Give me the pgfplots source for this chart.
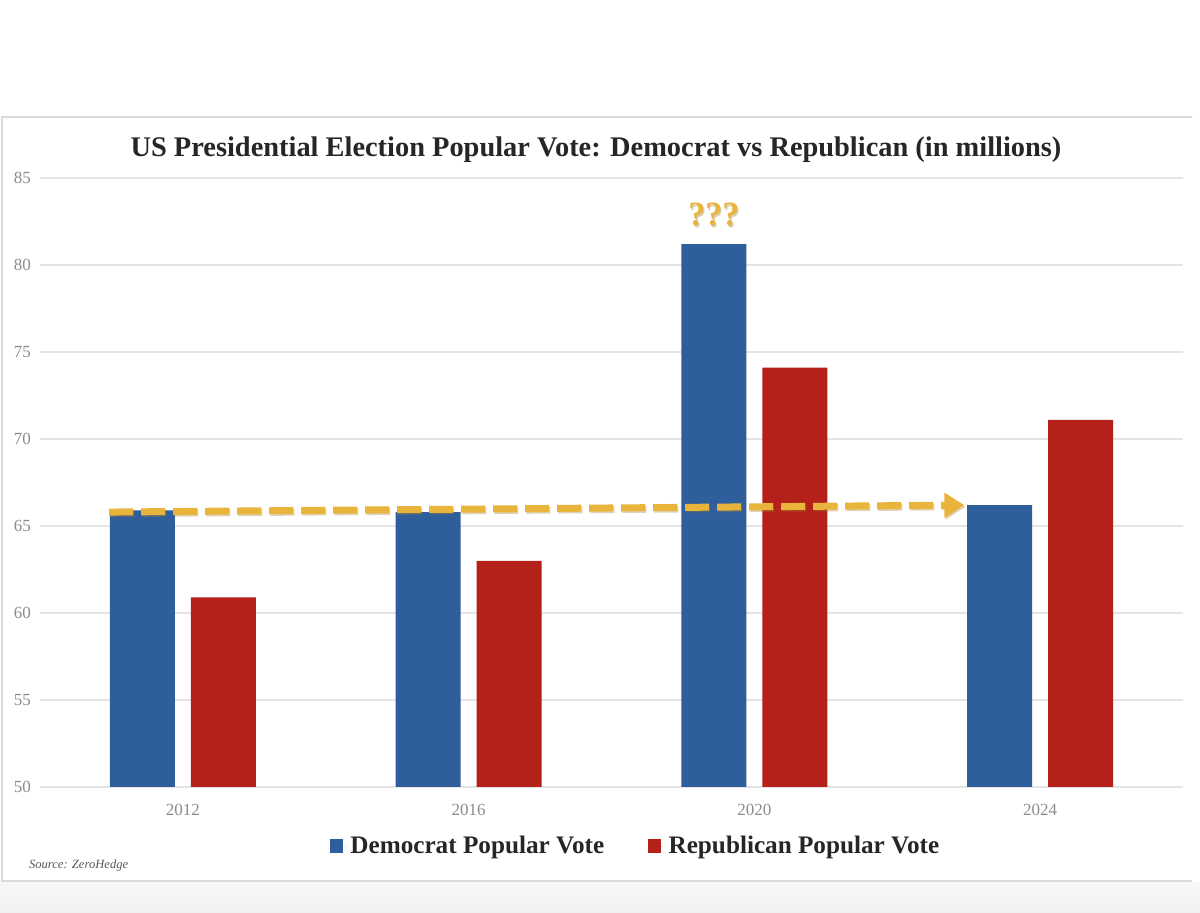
\documentclass[border=0pt]{standalone}
\usepackage{fontspec}
\setmainfont{Liberation Serif}
\usepackage{pgfplots}
\pgfplotsset{compat=1.18}
\usetikzlibrary{arrows.meta}

\definecolor{demblue}{HTML}{2F5E9C}
\definecolor{repred}{HTML}{B3211A}
\definecolor{gold}{HTML}{E9B43C}
\definecolor{gridgray}{HTML}{E4E4E4}
\definecolor{ticktext}{HTML}{8C8C8C}
\definecolor{panelline}{HTML}{DADADA}

\begin{document}
\begin{tikzpicture}[x=1pt,y=1pt]
\useasboundingbox (0,0) rectangle (600,456.5);
\fill[white] (0,0) rectangle (600,456.5);
% light grey strip under the panel
\shade[top color=gray!6, bottom color=gray!12] (0,0) rectangle (600,15);
% panel frame
\draw[panelline, line width=0.8pt] (596,398) -- (1,398) -- (1,16) -- (596,16);

% title
\node[font=\bfseries\fontsize{14.2}{16}\selectfont, text=black!85] at (298,381.8)
  {US Presidential Election Popular Vote: Democrat vs Republican (in millions)};
% source
\node[anchor=west, font=\itshape\fontsize{6.3}{7}\selectfont, text=black!65] at (11,24)
  {Source: ZeroHedge};

\begin{axis}[
  at={(20pt,63pt)}, anchor=south west,
  scale only axis, width=571.5pt, height=304.5pt,
  xmin=-0.5, xmax=3.5, ymin=50, ymax=85,
  ybar,
  ytick={50,55,...,85},
  xtick={0,1,2,3}, xticklabels={2012,2016,2020,2024},
  axis line style={draw=none},
  major tick length=0pt,
  ymajorgrids, grid style={gridgray, line width=0.8pt},
  tick label style={text=ticktext, font=\fontsize{8.5}{10}\selectfont},
  /pgf/number format/assume math mode=true,
  yticklabel style={xshift=-1pt},
  xticklabel style={yshift=-5pt},
  legend columns=2,
  legend style={at={(0.522,-0.097)}, anchor=center, draw=none, fill=none,
    font=\bfseries\fontsize{12.6}{14}\selectfont, text=black!85,
    /tikz/every even column/.append style={column sep=20pt}},
  legend image code/.code={\fill[#1] (0pt,-3.3pt) rectangle (6.6pt,3.3pt);
    \path (0pt,0pt) -- (8.2pt,0pt);},
]
\addplot[fill=demblue, draw=none, bar width=32.5pt, bar shift=-20.25pt]
  coordinates {(0,65.9) (1,65.8) (2,81.2) (3,66.2)};
\addlegendentry{Democrat Popular Vote}
\addplot[fill=repred, draw=none, bar width=32.5pt, bar shift=20.25pt]
  coordinates {(0,60.9) (1,63.0) (2,74.1) (3,71.1)};
\addlegendentry{Republican Popular Vote}

% flat-turnout arrow from 2012 to 2024
\addplot[sharp plot, forget plot, draw=gold!70!black, opacity=0.35, line width=3.5pt,
  dash pattern=on 12pt off 4pt, yshift=-0.8pt, xshift=0.6pt,
  -{Triangle[length=10pt,width=12pt]}]
  coordinates {(-0.258,65.8) (2.735,66.2)};
\addplot[sharp plot, forget plot, draw=gold, line width=3.5pt,
  dash pattern=on 12pt off 4pt,
  -{Triangle[length=10pt,width=12pt]}]
  coordinates {(-0.258,65.8) (2.735,66.2)};

\node[text=gold!70!black, opacity=0.4, font=\bfseries\fontsize{17}{17}\selectfont,
  xshift=-19.6pt, yshift=-0.8pt] at (axis cs:2,82.9) {???};
\node[text=gold, font=\bfseries\fontsize{17}{17}\selectfont, xshift=-20.25pt]
  at (axis cs:2,82.9) {???};
\end{axis}
\end{tikzpicture}
\end{document}
